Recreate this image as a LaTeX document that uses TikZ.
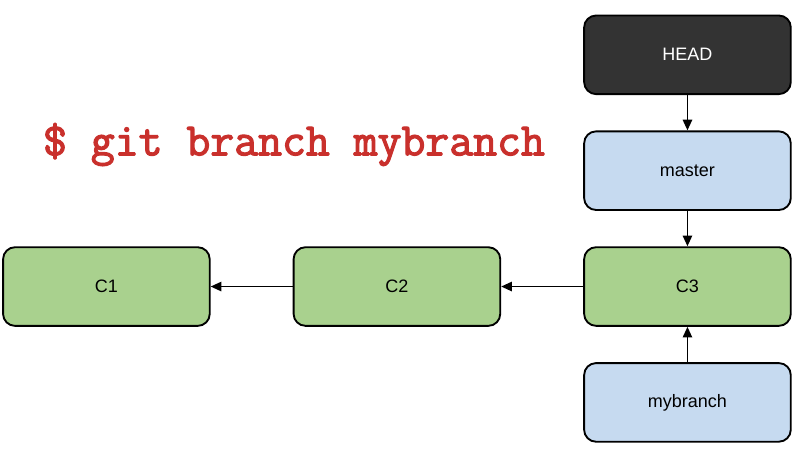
\documentclass[tikz,border=0pt]{standalone}
\usepackage{fontspec}
\setmainfont{Liberation Sans}
\newfontfamily\cmdfont[FakeBold=2.5]{Latin Modern Mono}
\usetikzlibrary{positioning,arrows.meta}
\definecolor{headgray}{HTML}{333333}
\definecolor{refblue}{HTML}{C6DAF0}
\definecolor{commitgreen}{HTML}{A9D18E}
\definecolor{cmdred}{HTML}{C9302C}

\begin{document}
\begin{tikzpicture}[
    box/.style={draw, line width=1.4pt, rounded corners=9pt,
      minimum width=155pt, minimum height=59pt,
      font=\fontsize{13.5}{16}\selectfont},
    commit/.style={box, fill=commitgreen},
    ref/.style={box, fill=refblue},
    head/.style={box, fill=headgray, text=white},
    ptr/.style={-{Triangle[length=8pt,width=7pt]}, line width=1.25pt},
    node distance=26.5pt and 61.5pt,
  ]
  \useasboundingbox (0,0) rectangle (606pt,-342.75pt);

  %% commits, newest on the right
  \node [commit] (c3) at (515.6pt,-214.9pt) {C3};
  \node [commit, left=of c3] (c2) {C2};
  \node [commit, left=of c2] (c1) {C1};

  %% branch pointers
  \node [ref, above=of c3] (master) {master};
  \node [head, above=of master] (head) {HEAD};
  \node [ref, below=of c3] (mybranch) {mybranch};

  \node [anchor=base, text=cmdred,
    font=\cmdfont\fontsize{34.8}{40}\selectfont] (cmd)
    at (220.5pt,-116.5pt) {\$ git branch mybranch};

  \draw [ptr] (c3) -- (c2);
  \draw [ptr] (c2) -- (c1);
  \draw [ptr] (head) -- (master);
  \draw [ptr] (master) -- (c3);
  \draw [ptr] (mybranch) -- (c3);
\end{tikzpicture}
\end{document}
